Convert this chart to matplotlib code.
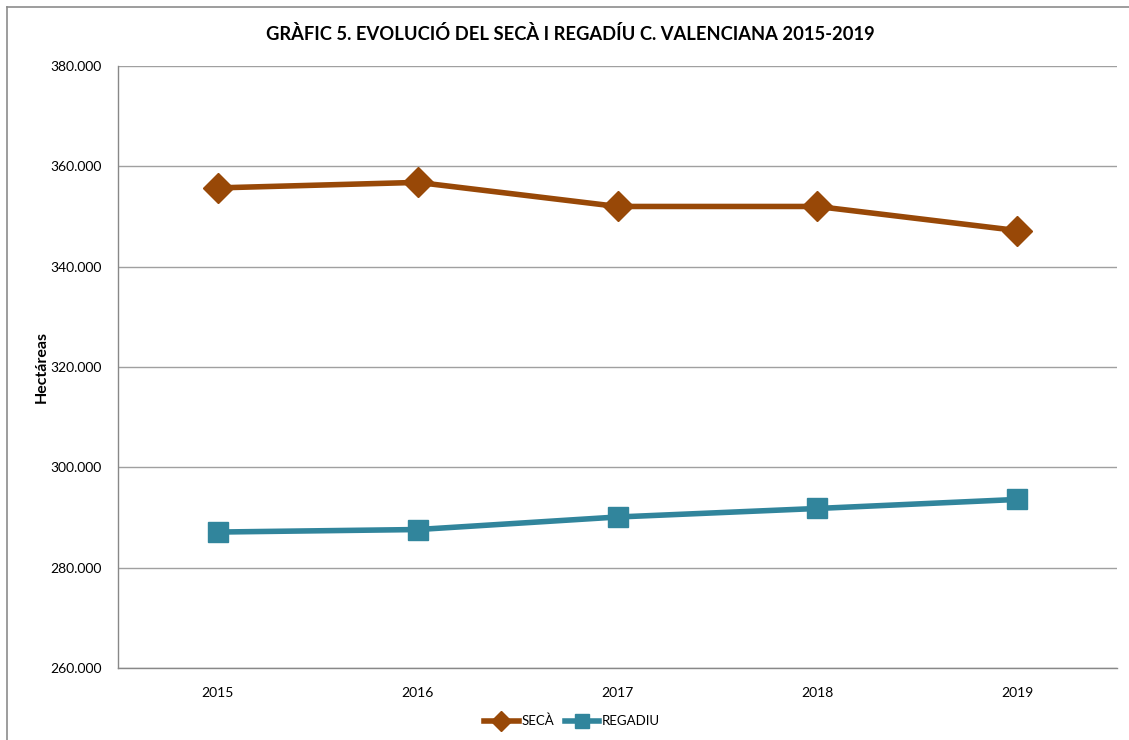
import matplotlib.pyplot as plt
from matplotlib.lines import Line2D

plt.rcParams['font.family'] = ['Lato', 'DejaVu Sans']

years = ['2015', '2016', '2017', '2018', '2019']
seca = [355700, 356800, 352000, 352000, 347200]
regadiu = [287100, 287600, 290100, 291800, 293600]
yticks = [260000, 280000, 300000, 320000, 340000, 360000, 380000]

c_seca = '#984807'
c_reg = '#31859C'

fig = plt.figure(figsize=(11.29, 7.40), dpi=100)
ax = fig.add_axes([118/1129, 1 - 668/740, 999/1129, 602/740])

x = range(len(years))
ax.plot(x, seca, color=c_seca, lw=4, marker='D', ms=15, label='SECÀ', zorder=3)
ax.plot(x, regadiu, color=c_reg, lw=4, marker='s', ms=15, label='REGADIU', zorder=3)

ax.set_xlim(-0.5, 4.5)
ax.set_ylim(260000, 380000)
ax.set_xticks(list(x))
ax.set_xticklabels(years)
ax.set_yticks(yticks)
ax.set_yticklabels([f"{v:,}".replace(',', '.') for v in yticks])
ax.tick_params(axis='y', length=0, labelsize=10, pad=12)
ax.tick_params(axis='x', length=0, labelsize=10, pad=14)
ax.grid(axis='y', color='#A0A0A0', lw=1)
ax.set_axisbelow(True)
for s in ['top', 'right']:
    ax.spines[s].set_visible(False)
for s in ['left', 'bottom']:
    ax.spines[s].set_color('#888888')
    ax.spines[s].set_linewidth(1)

ax.set_ylabel('Hectáreas', fontsize=11.5, fontweight='bold', labelpad=1)
fig.text(570/1129, 1 - 34/740, 'GRÀFIC 5. EVOLUCIÓ DEL SECÀ I REGADÍU C. VALENCIANA 2015-2019',
         ha='center', va='center', fontsize=13.2, fontweight='bold')

ax.legend(loc='center', bbox_to_anchor=(572/1129, 1 - 721/740), bbox_transform=fig.transFigure,
          ncol=2, frameon=False, fontsize=9.5, handlelength=2.6, columnspacing=0.8,
          handletextpad=0.2, markerscale=0.7)

# chart area border
fig.add_artist(Line2D([7/1129, 7/1129], [0, 1 - 7/740], color='#8C8C8C', lw=1.2, transform=fig.transFigure))
fig.add_artist(Line2D([7/1129, 1], [1 - 7/740, 1 - 7/740], color='#8C8C8C', lw=1.2, transform=fig.transFigure))

fig.savefig('out.png', dpi=100)
